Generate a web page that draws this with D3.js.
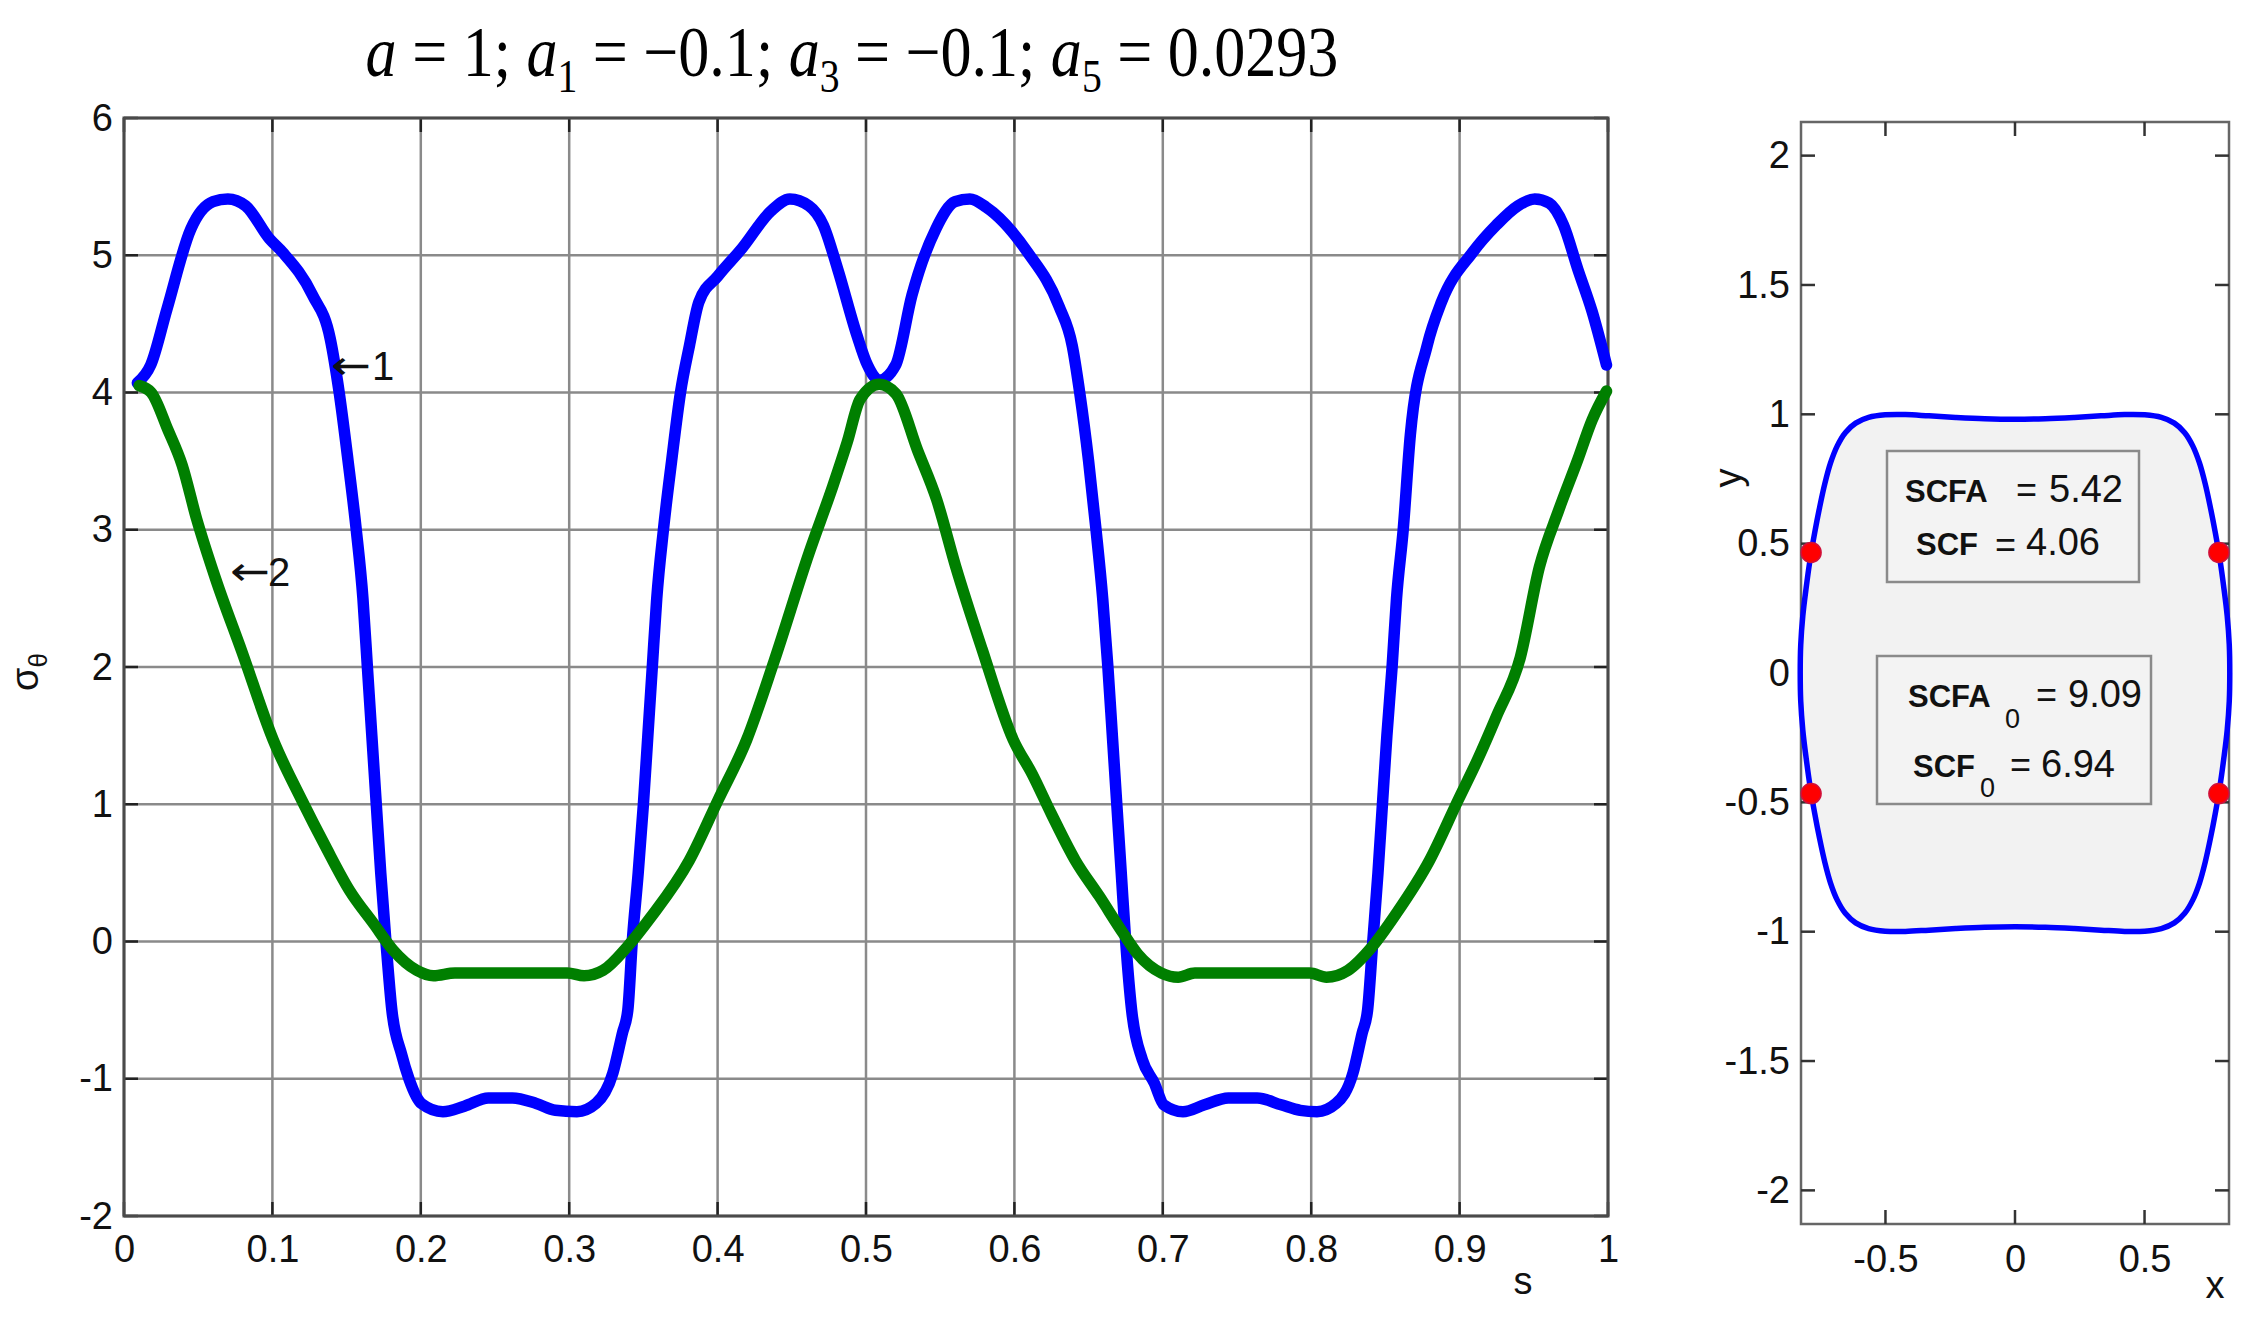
<!DOCTYPE html>
<html><head><meta charset="utf-8">
<script src="https://cdn.jsdelivr.net/npm/d3@7"></script>
<style>html,body{margin:0;padding:0;background:#fff;} svg{display:block}</style>
</head><body>
<svg id="c" width="2255" height="1328"></svg>
<script>
// ---------- DATA ----------
const sBlue = [0.009,0.018,0.029,0.045,0.060,0.070,0.082,0.098,0.107,0.127,0.139,0.145,0.151,0.1565,0.161,0.164,0.167,0.170,0.173,0.1765,0.1805,0.187,0.192,0.2004,0.2149,0.2294,0.2456,0.2617,0.2778,0.2907,0.3052,0.3181,0.3294,0.3358,0.3395,0.3425,0.3465,0.350,0.353,0.356,0.359,0.3635,0.369,0.375,0.381,0.3874,0.4003,0.4164,0.4358,0.4487,0.4616,0.4712,0.4809,0.4938,0.501,0.509,0.520,0.531,0.547,0.560,0.570,0.581,0.609,0.630,0.639,0.644,0.650,0.655,0.6595,0.663,0.666,0.669,0.672,0.675,0.679,0.6862,0.6942,0.7007,0.7136,0.7281,0.7442,0.7636,0.7797,0.7926,0.8039,0.8168,0.8281,0.8343,0.838,0.8415,0.845,0.848,0.851,0.8545,0.8575,0.862,0.8668,0.8781,0.8878,0.9087,0.9248,0.9393,0.9506,0.9603,0.9700,0.9796,0.9893,0.999];
const sigmaBlue = [4.07,4.20,4.61,5.19,5.39,5.41,5.36,5.12,5.02,4.71,4.39,4.0,3.5,3.0,2.5,2.0,1.5,1.0,0.5,0.0,-0.5,-0.82,-1.0,-1.18,-1.24,-1.20,-1.14,-1.14,-1.18,-1.23,-1.24,-1.18,-0.96,-0.67,-0.5,0.0,0.5,1.0,1.5,2.0,2.5,3.0,3.5,4.0,4.34,4.66,4.85,5.05,5.32,5.41,5.36,5.22,4.90,4.42,4.20,4.09,4.20,4.71,5.19,5.39,5.41,5.35,5.02,4.63,4.34,4.0,3.5,3.0,2.5,2.0,1.5,1.0,0.5,0.0,-0.5,-0.86,-1.03,-1.19,-1.24,-1.19,-1.14,-1.14,-1.19,-1.23,-1.24,-1.18,-0.96,-0.67,-0.5,0.0,0.5,1.0,1.5,2.0,2.5,3.0,3.69,4.34,4.66,5.02,5.22,5.36,5.41,5.38,5.22,4.90,4.59,4.20];

const sGreen = [0.0102,0.0183,0.0295,0.0392,0.0489,0.0618,0.0795,0.1005,0.1198,0.1359,0.1521,0.1682,0.1811,0.1972,0.2085,0.223,0.2552,0.2988,0.3100,0.3229,0.339,0.3552,0.3809,0.4003,0.4196,0.438,0.4616,0.4777,0.4874,0.496,0.5089,0.5202,0.5347,0.5476,0.5605,0.5782,0.5992,0.612,0.6249,0.6411,0.6572,0.6733,0.683,0.6991,0.7104,0.7216,0.7539,0.7990,0.8103,0.8248,0.8409,0.8571,0.8797,0.899,0.9119,0.9248,0.9409,0.9538,0.9667,0.9796,0.9893,0.999];
const sigmaGreen = [4.05,4.00,3.73,3.47,3.08,2.64,2.11,1.47,1.03,0.69,0.37,0.13,-0.06,-0.21,-0.25,-0.23,-0.23,-0.23,-0.25,-0.21,-0.04,0.18,0.59,1.03,1.47,2.04,2.83,3.32,3.64,3.95,4.06,3.99,3.58,3.22,2.73,2.13,1.47,1.22,0.93,0.59,0.33,0.06,-0.09,-0.23,-0.26,-0.23,-0.23,-0.23,-0.26,-0.21,-0.04,0.20,0.59,1.03,1.32,1.64,2.07,2.73,3.14,3.51,3.80,4.01];

const sTicks = [0,0.1,0.2,0.3,0.4,0.5,0.6,0.7,0.8,0.9,1];
const sTickLabels = ["0","0.1","0.2","0.3","0.4","0.5","0.6","0.7","0.8","0.9","1"];
const sigmaTicks = [-2,-1,0,1,2,3,4,5,6];
const sigmaTickLabels = ["-2","-1","0","1","2","3","4","5","6"];

// contour of the hole (right panel)
const shapeX = [0.829,0.827,0.819,0.806,0.791,0.773,0.754,0.734,0.712,0.686,0.655,0.615,0.565,0.501,0.423,0.332,0.229,0.117,0,
 -0.117,-0.229,-0.332,-0.423,-0.501,-0.565,-0.615,-0.655,-0.686,-0.712,-0.734,-0.754,-0.773,-0.791,-0.806,-0.819,-0.827,-0.829,
 -0.827,-0.819,-0.806,-0.791,-0.773,-0.754,-0.734,-0.712,-0.686,-0.655,-0.615,-0.565,-0.501,-0.423,-0.332,-0.229,-0.117,0,
 0.117,0.229,0.332,0.423,0.501,0.565,0.615,0.655,0.686,0.712,0.734,0.754,0.773,0.791,0.806,0.819,0.827];
const shapeY = [0,0.110,0.221,0.330,0.438,0.543,0.641,0.732,0.812,0.878,0.929,0.966,0.988,0.998,0.999,0.994,0.988,0.983,0.981,
 0.983,0.988,0.994,0.999,0.998,0.988,0.966,0.929,0.878,0.812,0.732,0.641,0.543,0.438,0.330,0.221,0.110,0,
 -0.110,-0.221,-0.330,-0.438,-0.543,-0.641,-0.732,-0.812,-0.878,-0.929,-0.966,-0.988,-0.998,-0.999,-0.994,-0.988,-0.983,-0.981,
 -0.983,-0.988,-0.994,-0.999,-0.998,-0.988,-0.966,-0.929,-0.878,-0.812,-0.732,-0.641,-0.543,-0.438,-0.330,-0.221,-0.110];
const dotX = [-0.787,0.787,-0.787,0.787];
const dotY = [0.466,0.466,-0.466,-0.466];

const xTicks = [-0.5,0,0.5];
const xTickLabels = ["-0.5","0","0.5"];
const yTicks = [-2,-1.5,-1,-0.5,0,0.5,1,1.5,2];
const yTickLabels = ["-2","-1.5","-1","-0.5","0","0.5","1","1.5","2"];

const scfaText = "5.42", scfText = "4.06", scfa0Text = "9.09", scf0Text = "6.94";

// ---------- DRAW ----------
const W = 2255, H = 1328;
const SANS = "'Liberation Sans', Arial, sans-serif";
const SERIF = "'Liberation Serif', 'Times New Roman', serif";
const svg = d3.select("#c");
svg.append("rect").attr("width", W).attr("height", H).attr("fill", "#fff");

// ===== Left panel =====
const L = {left: 124, right: 1608, top: 118, bottom: 1216};
const x = d3.scaleLinear().domain([0, 1]).range([L.left, L.right]);
const y = d3.scaleLinear().domain([-2, 6]).range([L.bottom, L.top]);
const gl = svg.append("g");

gl.selectAll("line.vg").data(sTicks).join("line").attr("class", "vg")
  .attr("x1", d => x(d)).attr("x2", d => x(d)).attr("y1", L.top).attr("y2", L.bottom)
  .attr("stroke", "#8a8a8a").attr("stroke-width", 2.5);
gl.selectAll("line.hg").data(sigmaTicks).join("line").attr("class", "hg")
  .attr("y1", d => y(d)).attr("y2", d => y(d)).attr("x1", L.left).attr("x2", L.right)
  .attr("stroke", "#8a8a8a").attr("stroke-width", 2.5);

// inward ticks
const tk = 14;
sigmaTicks.forEach(v => {
  gl.append("line").attr("x1", L.left).attr("x2", L.left + tk).attr("y1", y(v)).attr("y2", y(v)).attr("stroke", "#222").attr("stroke-width", 2.5);
  gl.append("line").attr("x1", L.right).attr("x2", L.right - tk).attr("y1", y(v)).attr("y2", y(v)).attr("stroke", "#222").attr("stroke-width", 2.5);
});
sTicks.forEach(v => {
  gl.append("line").attr("y1", L.bottom).attr("y2", L.bottom - tk).attr("x1", x(v)).attr("x2", x(v)).attr("stroke", "#222").attr("stroke-width", 2.5);
  gl.append("line").attr("y1", L.top).attr("y2", L.top + tk).attr("x1", x(v)).attr("x2", x(v)).attr("stroke", "#222").attr("stroke-width", 2.5);
});

gl.append("rect").attr("x", L.left).attr("y", L.top).attr("width", L.right - L.left).attr("height", L.bottom - L.top)
  .attr("fill", "none").attr("stroke", "#4a4a4a").attr("stroke-width", 3);

const xAxis = d3.axisBottom(x).tickValues(sTicks).tickFormat((d, i) => sTickLabels[i]).tickSize(0).tickPadding(19);
gl.append("g").attr("transform", `translate(0,${L.bottom})`).call(xAxis)
  .call(a => a.select(".domain").remove())
  .attr("font-size", 38).attr("font-family", SANS)
  .selectAll("text").attr("fill", "#111");
const yAxis = d3.axisLeft(y).tickValues(sigmaTicks).tickFormat((d, i) => sigmaTickLabels[i]).tickSize(0).tickPadding(11);
gl.append("g").attr("transform", `translate(${L.left},0)`).call(yAxis)
  .call(a => a.select(".domain").remove())
  .attr("font-size", 38).attr("font-family", SANS)
  .selectAll("text").attr("fill", "#111");

const line = d3.line().x(d => x(d[0])).y(d => y(d[1])).curve(d3.curveMonotoneX);
gl.append("path").datum(d3.zip(sBlue, sigmaBlue)).attr("d", line)
  .attr("fill", "none").attr("stroke", "#0000ff").attr("stroke-width", 11.5)
  .attr("stroke-linejoin", "round").attr("stroke-linecap", "round");
gl.append("path").datum(d3.zip(sGreen, sigmaGreen)).attr("d", line)
  .attr("fill", "none").attr("stroke", "#007f00").attr("stroke-width", 11.5)
  .attr("stroke-linejoin", "round").attr("stroke-linecap", "round");

// annotations (arrow + curve number)
function arrowLabel(xTip, yMid, num, numX) {
  gl.append("text").attr("x", xTip).attr("y", yMid + 13).attr("font-family", "'DejaVu Sans', sans-serif")
    .attr("font-size", 40).attr("textLength", 40).attr("lengthAdjust", "spacingAndGlyphs").attr("fill", "#111").text("←");
  gl.append("text").attr("x", numX).attr("y", yMid + 14).attr("font-family", SANS).attr("font-size", 40).attr("fill", "#111").text(num);
}
arrowLabel(331, 366, "1", 372);
arrowLabel(230, 572, "2", 268);

// axis labels
gl.append("text").attr("x", 1523).attr("y", 1294).attr("text-anchor", "middle").attr("font-family", SANS).attr("font-size", 38).attr("fill", "#111").text("s");
const yl = gl.append("text").attr("transform", "translate(38,672) rotate(-90)").attr("text-anchor", "middle")
  .attr("font-family", SANS).attr("font-size", 38).attr("fill", "#111");
yl.append("tspan").text("σ");
yl.append("tspan").attr("font-size", 26).attr("dy", 9).text("θ");

// title
const cx = 852;
const title = svg.append("text").attr("x", cx).attr("y", 76).attr("text-anchor", "middle")
  .attr("font-family", SERIF).attr("font-size", 72).attr("fill", "#000");
const parts = [["a", "i"], [" = 1;  ", "n"], ["a", "i"], ["1", "s"], [" = −0.1;  ", "n"], ["a", "i"], ["3", "s"], [" = −0.1;  ", "n"], ["a", "i"], ["5", "s"], [" = 0.0293", "n"]];
let shifted = false;
parts.forEach(([t, k]) => {
  const ts = title.append("tspan").text(t);
  if (k === "i") ts.attr("font-style", "italic");
  if (k === "s") { ts.attr("font-size", 46).attr("dy", 16); shifted = true; }
  else if (shifted) { ts.attr("dy", -16); shifted = false; }
});
const bb = title.node().getBBox();
const k = 973 / bb.width;
title.attr("transform", `translate(${cx},0) scale(${k},1) translate(${-cx},0)`);

// ===== Right panel =====
const R = {left: 1801, right: 2229, top: 122, bottom: 1224};
const xr = d3.scaleLinear().domain([-0.826, 0.826]).range([R.left, R.right]);
const yr = d3.scaleLinear().domain([-2.13, 2.13]).range([R.bottom, R.top]);
const gr = svg.append("g");

gr.append("rect").attr("x", R.left).attr("y", R.top).attr("width", R.right - R.left).attr("height", R.bottom - R.top)
  .attr("fill", "#fff").attr("stroke", "#666").attr("stroke-width", 2.5);

yTicks.forEach(v => {
  gr.append("line").attr("x1", R.left).attr("x2", R.left + tk).attr("y1", yr(v)).attr("y2", yr(v)).attr("stroke", "#333").attr("stroke-width", 2.5);
  gr.append("line").attr("x1", R.right).attr("x2", R.right - tk).attr("y1", yr(v)).attr("y2", yr(v)).attr("stroke", "#333").attr("stroke-width", 2.5);
});
xTicks.forEach(v => {
  gr.append("line").attr("y1", R.bottom).attr("y2", R.bottom - tk).attr("x1", xr(v)).attr("x2", xr(v)).attr("stroke", "#333").attr("stroke-width", 2.5);
  gr.append("line").attr("y1", R.top).attr("y2", R.top + tk).attr("x1", xr(v)).attr("x2", xr(v)).attr("stroke", "#333").attr("stroke-width", 2.5);
});

const shapeLine = d3.line().x(d => xr(d[0])).y(d => yr(d[1])).curve(d3.curveCatmullRomClosed);
gr.append("path").datum(d3.zip(shapeX, shapeY)).attr("d", shapeLine)
  .attr("fill", "#f2f2f2").attr("stroke", "#0000ff").attr("stroke-width", 5.5);

gr.selectAll("circle.dot").data(d3.zip(dotX, dotY)).join("circle").attr("class", "dot")
  .attr("cx", d => xr(d[0])).attr("cy", d => yr(d[1])).attr("r", 10)
  .attr("fill", "#ff0000").attr("stroke", "#d0103a").attr("stroke-width", 1.5);

const xrAxis = d3.axisBottom(xr).tickValues(xTicks).tickFormat((d, i) => xTickLabels[i]).tickSize(0).tickPadding(21);
gr.append("g").attr("transform", `translate(0,${R.bottom})`).call(xrAxis)
  .call(a => a.select(".domain").remove())
  .attr("font-size", 38).attr("font-family", SANS).selectAll("text").attr("fill", "#111");
const yrAxis = d3.axisLeft(yr).tickValues(yTicks).tickFormat((d, i) => yTickLabels[i]).tickSize(0).tickPadding(11);
gr.append("g").attr("transform", `translate(${R.left},0)`).call(yrAxis)
  .call(a => a.select(".domain").remove())
  .attr("font-size", 38).attr("font-family", SANS).selectAll("text").attr("fill", "#111");

gr.append("text").attr("x", 2215).attr("y", 1298).attr("text-anchor", "middle").attr("font-family", SANS).attr("font-size", 38).attr("fill", "#111").text("x");
gr.append("text").attr("transform", "translate(1741,478) rotate(-90)").attr("text-anchor", "middle").attr("font-family", SANS).attr("font-size", 38).attr("fill", "#111").text("y");

// annotation boxes
function box(x0, y0, w, h) {
  gr.append("rect").attr("x", x0).attr("y", y0).attr("width", w).attr("height", h)
    .attr("fill", "#f3f3f3").attr("stroke", "#8a8a8a").attr("stroke-width", 2.5);
}
function txt(xp, yp, t, size, bold) {
  gr.append("text").attr("x", xp).attr("y", yp).attr("font-family", SANS).attr("font-size", size)
    .attr("font-weight", bold ? "bold" : "normal").attr("fill", "#111").text(t);
}
box(1887, 451, 252, 131);
txt(1905, 502, "SCFA", 31, true);
txt(2016, 502, "=", 36, false);
txt(2049, 502, scfaText, 38, false);
txt(1916, 555, "SCF", 31, true);
txt(1995, 557, "=", 36, false);
txt(2026, 555, scfText, 38, false);

box(1877, 656, 274, 148);
txt(1908, 707, "SCFA", 31, true);
txt(2005, 728, "0", 27, false);
txt(2036, 707, "=", 36, false);
txt(2068, 707, scfa0Text, 38, false);
txt(1913, 777, "SCF", 31, true);
txt(1980, 797, "0", 27, false);
txt(2010, 777, "=", 36, false);
txt(2041, 777, scf0Text, 38, false);
</script>
</body></html>
